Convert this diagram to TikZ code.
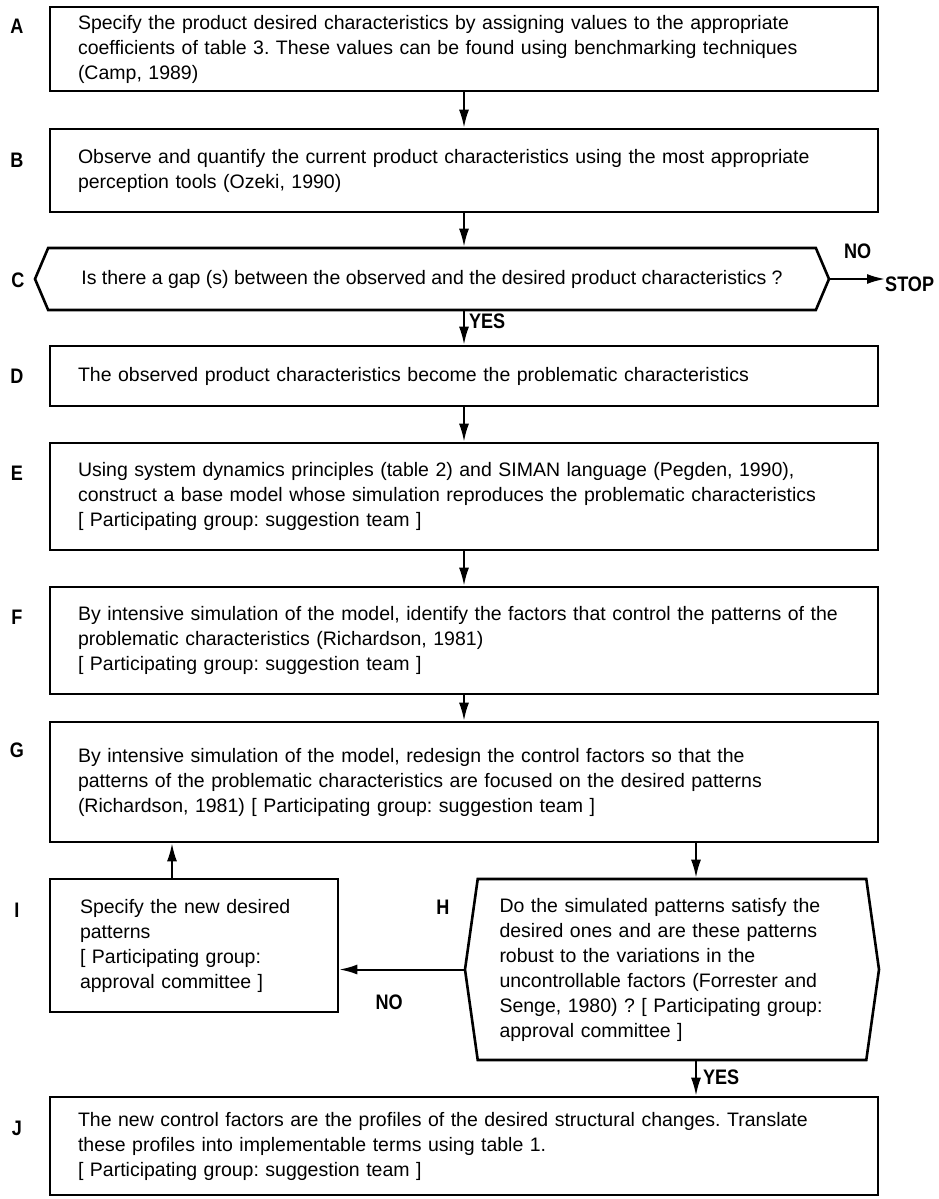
\documentclass[tikz,border=0pt]{standalone}
\usepackage{fontspec}
\setmainfont{Liberation Sans}
\newfontfamily\tagfont[FakeStretch=0.86]{Liberation Sans}
\usetikzlibrary{positioning,arrows.meta,shapes.symbols}
\frenchspacing

\begin{document}
\begin{tikzpicture}[x=1pt,y=-1pt,
  font=\fontsize{19.5}{25}\selectfont,
  >={Latex[length=18pt,width=10pt]},
  box/.style={draw,line width=2.6pt,text width=772pt,inner xsep=28pt,inner ysep=0pt,align=left},
  test/.style={draw,line width=2.6pt,shape=signal,signal to=west and east,align=left},
  flow/.style={->,line width=2pt},
  tag/.style={font=\tagfont\fontsize{21}{24}\selectfont\bfseries,inner sep=0pt},
]
\useasboundingbox (0,0) rectangle (938,1199);

\node[box,minimum height=84pt] (A) at (464,49) {Specify the product desired characteristics by assigning values to the appropriate\\ coefficients of table 3. These values can be found using benchmarking techniques\\ (Camp, 1989)};
\node[box,minimum height=83pt] (B) at (464,170.5) {Observe and quantify the current product characteristics using the most appropriate\\ perception tools (Ozeki, 1990)};
\node[test,minimum width=794pt,minimum height=62pt,signal pointer angle=134] (C) at (432,279) {Is there a gap (s) between the observed and the desired product characteristics ?};
\node[box,minimum height=60pt] (D) at (464,376) {The observed product characteristics become the problematic characteristics};
\node[box,minimum height=107pt] (E) at (464,496.5) {Using system dynamics principles (table 2) and SIMAN language (Pegden, 1990),\\ construct a base model whose simulation reproduces the problematic characteristics\\{}[ Participating group: suggestion team ]};
\node[box,minimum height=107pt] (F) at (464,640.5) {By intensive simulation of the model, identify the factors that control the patterns of the\\ problematic characteristics (Richardson, 1981)\\{}[ Participating group: suggestion team ]};
\node[box,minimum height=120pt] (G) at (464,782) {By intensive simulation of the model, redesign the control factors so that the\\ patterns of the problematic characteristics are focused on the desired patterns\\ (Richardson, 1981) [ Participating group: suggestion team ]};
\node[box,text width=228pt,inner xsep=30pt,minimum height=133pt] (I) at (194,945.5) {Specify the new desired\\ patterns\\{}[ Participating group:\\ approval committee ]};
\node[test,text width=345pt,inner xsep=2pt,minimum width=414pt,minimum height=181pt,signal pointer angle=164] (H) at (672,969.5) {Do the simulated patterns satisfy the\\ desired ones and are these patterns\\ robust to the variations in the\\ uncontrollable factors (Forrester and\\ Senge, 1980) ? [ Participating group:\\ approval committee ]};
\node[box,minimum height=98pt] (J) at (464,1146) {The new control factors are the profiles of the desired structural changes. Translate\\ these profiles into implementable terms using table 1.\\{}[ Participating group: suggestion team ]};

% step letters
\node[tag] (lA) at (17,26) {A};
\node[tag] (lB) at (17,160) {B};
\node[tag] (lC) at (18,280) {C};
\node[tag] (lD) at (17,376) {D};
\node[tag] (lE) at (17,473) {E};
\node[tag] (lF) at (17,617) {F};
\node[tag] (lG) at (17,750) {G};
\node[tag] (lI) at (17,910) {I};
\node[tag] (lH) at (443,907) {H};
\node[tag] (lJ) at (17,1128) {J};
\node[tag,anchor=west] (stop) at (885,284) {STOP};

\coordinate (gh) at (696,0);
\coordinate (ig) at (172,0);

\draw[flow] (A) -- (B);
\draw[flow] (B) -- (B |- C.north);
\draw[flow] (C.east) -- (C.east -| stop.west) node[tag,midway,above=19pt] {NO};
\draw[flow] (D |- C.south) -- (D) node[tag,pos=0.3,right=4pt] {YES};
\draw[flow] (D) -- (E);
\draw[flow] (E) -- (F);
\draw[flow] (F) -- (G);
\draw[flow] (gh |- G.south) -- (gh |- H.north);
\draw[flow] (ig |- I.north) -- (ig |- G.south);
\draw[flow] (H.west) -- (H.west -| I.east) node[tag,pos=0.6,below=24pt] {NO};
\draw[flow] (gh |- H.south) -- (gh |- J.north) node[tag,pos=0.45,right=6pt] {YES};
\end{tikzpicture}
\end{document}
